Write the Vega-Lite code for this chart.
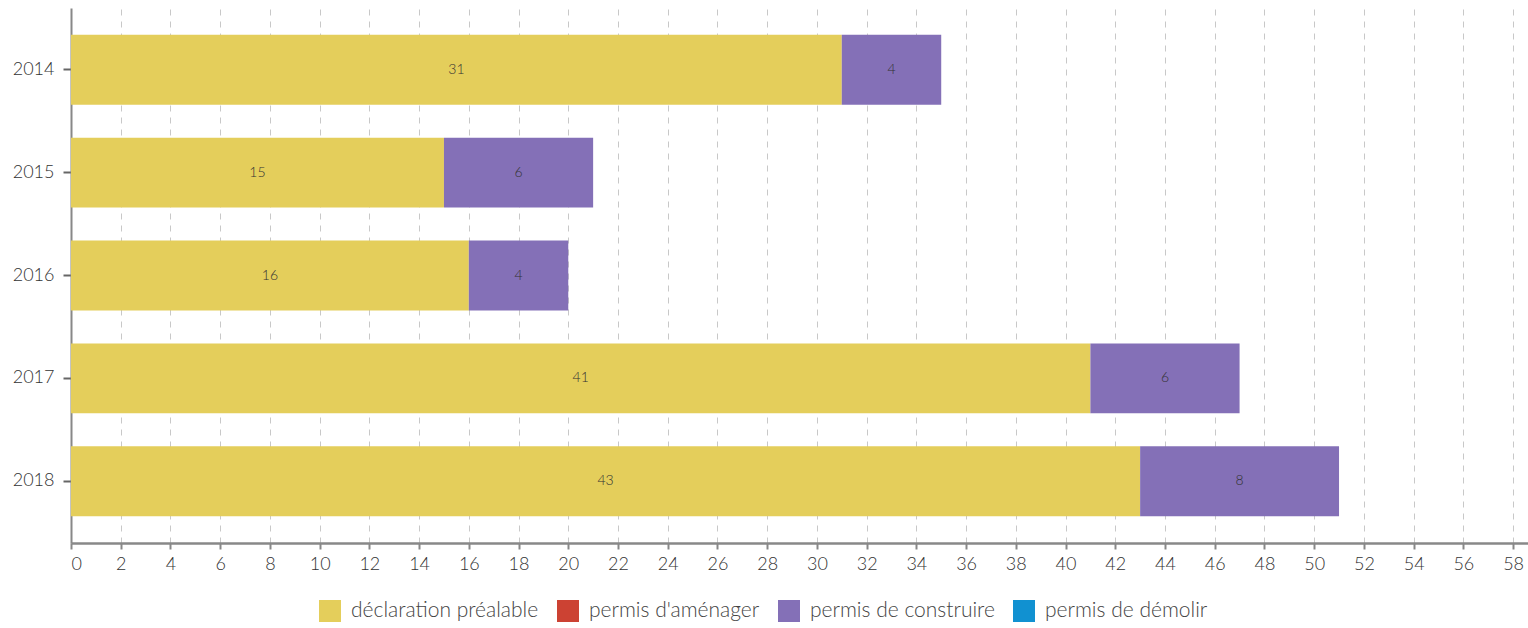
{
  "$schema": "https://vega.github.io/schema/vega-lite/v6.json",
  "width": 1457,
  "height": 535,
  "autosize": {"type": "none"},
  "padding": {"left": 71, "top": 8, "right": 0, "bottom": 85},
  "background": "white",
  "config": {
    "font": "Lato",
    "view": {"stroke": null},
    "axis": {"labelFont": "Lato", "labelFontWeight": 300}
  },
  "data": {
    "values": [
      {"year": "2014", "type": "déclaration préalable", "n": 31},
      {"year": "2014", "type": "permis de construire", "n": 4},
      {"year": "2015", "type": "déclaration préalable", "n": 15},
      {"year": "2015", "type": "permis de construire", "n": 6},
      {"year": "2016", "type": "déclaration préalable", "n": 16},
      {"year": "2016", "type": "permis de construire", "n": 4},
      {"year": "2017", "type": "déclaration préalable", "n": 41},
      {"year": "2017", "type": "permis de construire", "n": 6},
      {"year": "2018", "type": "déclaration préalable", "n": 43},
      {"year": "2018", "type": "permis de construire", "n": 8}
    ]
  },
  "transform": [
    {"calculate": "indexof(['déclaration préalable','permis d\\'aménager','permis de construire','permis de démolir'], datum.type)", "as": "ord"},
    {"stack": "n", "groupby": ["year"], "sort": [{"field": "ord", "order": "ascending"}], "as": ["x0", "x1"]},
    {"calculate": "(datum.x0 + datum.x1) / 2", "as": "xm"}
  ],
  "encoding": {
    "y": {
      "field": "year", "type": "ordinal",
      "scale": {"paddingInner": 0.32, "paddingOuter": 0.26},
      "axis": {
        "title": null, "labelFontSize": 18, "labelColor": "#333", "labelPadding": 9,
        "domainColor": "#888", "domainWidth": 2, "tickColor": "#666", "tickSize": 8, "tickWidth": 2,
        "grid": false
      }
    }
  },
  "layer": [
    {
      "mark": {"type": "bar"},
      "encoding": {
        "x": {
          "field": "x0", "type": "quantitative",
          "scale": {"domain": [0, 58.6], "nice": false},
          "axis": {
            "title": null, "values": [0,2,4,6,8,10,12,14,16,18,20,22,24,26,28,30,32,34,36,38,40,42,44,46,48,50,52,54,56,58],
            "labelFontSize": 18, "labelColor": "#333", "labelPadding": 6,
            "domainColor": "#888", "domainWidth": 2.5, "tickColor": "#888", "tickSize": 6, "tickWidth": 2,
            "grid": true, "gridColor": "#c8c8c8", "gridDash": [6, 6], "gridWidth": 1
          }
        },
        "x2": {"field": "x1"},
        "color": {
          "field": "type", "type": "nominal",
          "scale": {
            "domain": ["déclaration préalable", "permis d'aménager", "permis de construire", "permis de démolir"],
            "range": ["#E4CE5B", "#CC4233", "#8470B7", "#1191D1"]
          },
          "legend": {
            "title": null, "orient": "none", "direction": "horizontal",
            "legendX": 248, "legendY": 592,
            "symbolType": "square", "symbolSize": 484, "symbolStrokeWidth": 0,
            "labelFontSize": 21, "labelFont": "Lato", "labelFontWeight": 300, "labelColor": "#444",
            "labelLimit": 400, "columnPadding": 18, "labelOffset": 10
          }
        }
      }
    },
    {
      "mark": {"type": "text", "fontSize": 14, "color": "#333", "font": "Lato", "fontWeight": 300},
      "encoding": {
        "x": {"field": "xm", "type": "quantitative"},
        "text": {"field": "n", "type": "quantitative"}
      }
    }
  ]
}
